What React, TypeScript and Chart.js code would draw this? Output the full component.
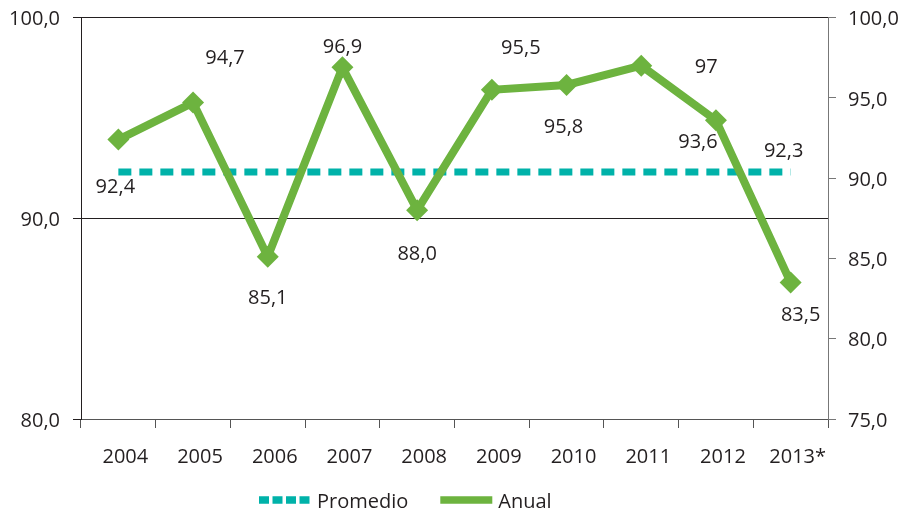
import { useEffect, useRef } from "react";
import { Chart, registerables } from "chart.js";

Chart.register(...registerables);

const categories = ["2004", "2005", "2006", "2007", "2008", "2009", "2010", "2011", "2012", "2013*"];
const anualValues = [92.4, 94.7, 85.1, 96.9, 88.0, 95.5, 95.8, 97.0, 93.6, 83.5];
const anualLabels = ["92,4", "94,7", "85,1", "96,9", "88,0", "95,5", "95,8", "97", "93,6", "83,5"];
const promedioValues = [92.3, 92.3, 92.3, 92.3, 92.3, 92.3, 92.3, 92.3, 92.3, 92.3];
const promedioLabel = "92,3";
const leftAxis = { min: 80, max: 100, step: 10 };
const rightAxis = { min: 75, max: 100, step: 5 };

// label placement relative to each point (dx, dy), layout only
const anualLabelOffsets: [number, number][] = [
  [-3, 46], [32, -46], [0, 40], [0, -21], [0, 43], [29, -43], [-3, 41], [65, 0], [-18, 21], [10, 32],
];
const promedioLabelOffset: [number, number] = [-7, -22];

const TEAL = "#00b2a9";
const GREEN = "#6db33f";
const TEXT = "#231f20";
const FONT = "'Open Sans', sans-serif";

const fmt = (v: number) => v.toFixed(1).replace(".", ",");

const labelsPlugin = {
  id: "valueLabels",
  afterDatasetsDraw(chart: any) {
    const ctx = chart.ctx;
    ctx.save();
    ctx.font = `20px ${FONT}`;
    ctx.fillStyle = TEXT;
    ctx.textAlign = "center";
    ctx.textBaseline = "alphabetic";
    const anualMeta = chart.getDatasetMeta(1);
    anualMeta.data.forEach((pt: any, i: number) => {
      const [dx, dy] = anualLabelOffsets[i];
      ctx.fillText(anualLabels[i], pt.x + dx, pt.y + dy + 7);
    });
    const promMeta = chart.getDatasetMeta(0);
    const last = promMeta.data[promMeta.data.length - 1];
    ctx.fillText(promedioLabel, last.x + promedioLabelOffset[0], last.y + promedioLabelOffset[1] + 7);
    ctx.restore();
  },
};

const legendPlugin = {
  id: "customLegend",
  afterDraw(chart: any) {
    const ctx = chart.ctx;
    const ds = chart.data.datasets;
    const y = 500;
    let x = 259;
    ctx.save();
    ctx.font = `20px ${FONT}`;
    ctx.textBaseline = "alphabetic";
    ctx.textAlign = "left";
    const items = [
      { text: ds[0].label, color: TEAL, dash: [10, 3.5], width: 7.5 },
      { text: ds[1].label, color: GREEN, dash: [], width: 7.5 },
    ];
    items.forEach((it) => {
      ctx.beginPath();
      ctx.setLineDash(it.dash);
      ctx.lineWidth = it.width;
      ctx.strokeStyle = it.color;
      ctx.moveTo(x, y);
      ctx.lineTo(x + 52, y);
      ctx.stroke();
      ctx.setLineDash([]);
      ctx.fillStyle = TEXT;
      ctx.fillText(it.text, x + 58, y + 8);
      x += 58 + ctx.measureText(it.text).width + 32;
    });
    ctx.restore();
  },
};

const noVPad = (s: any, w: number) => {
  s.width = w;
  s.paddingTop = 0;
  s.paddingBottom = 0;
};

export default function App() {
  const ref = useRef<HTMLCanvasElement>(null);
  useEffect(() => {
    if (!ref.current) return;
    Chart.defaults.font.family = FONT;
    Chart.defaults.font.size = 20;
    Chart.defaults.color = TEXT;
    const chart = new Chart(ref.current, {
      type: "line",
      data: {
        labels: categories,
        datasets: [
          {
            label: "Promedio",
            data: promedioValues,
            yAxisID: "y",
            borderColor: TEAL,
            backgroundColor: TEAL,
            borderWidth: 7,
            borderDash: [13, 8],
            pointRadius: 0,
            order: 2,
          },
          {
            label: "Anual",
            data: anualValues,
            yAxisID: "y1",
            borderColor: GREEN,
            backgroundColor: GREEN,
            borderWidth: 8,
            pointStyle: "rectRot",
            pointRadius: 11,
            pointBorderWidth: 0,
            pointBackgroundColor: GREEN,
            borderJoinStyle: "miter",
            order: 1,
          },
        ],
      },
      options: {
        responsive: false,
        animation: false,
        layout: { padding: { left: 0, right: 0, top: 17.5, bottom: 0 } },
        plugins: {
          legend: { display: false },
          tooltip: { enabled: false },
        },
        scales: {
          x: {
            offset: true,
            grid: { offset: true, drawOnChartArea: false, tickLength: 9, color: "#555" },
            border: { color: "#555" },
            ticks: { padding: 17, labelOffset: 7, autoSkip: false, maxRotation: 0, color: TEXT },
            afterFit: (s: any) => { s.height = 95; },
          },
          y: {
            position: "left",
            min: leftAxis.min,
            max: leftAxis.max,
            ticks: { stepSize: leftAxis.step, padding: 13, labelOffset: 2, color: TEXT, callback: (v: any) => fmt(Number(v)) },
            grid: { color: TEXT, tickLength: 8 },
            border: { color: TEXT },
            afterFit: (s: any) => noVPad(s, 81),
          },
          y1: {
            position: "right",
            min: rightAxis.min,
            max: rightAxis.max,
            ticks: { stepSize: rightAxis.step, padding: 12, labelOffset: 2, color: TEXT, callback: (v: any) => fmt(Number(v)) },
            grid: { drawOnChartArea: false, color: "#777", tickLength: 8 },
            border: { color: "#777" },
            afterFit: (s: any) => noVPad(s, 71),
          },
        },
      },
      plugins: [labelsPlugin, legendPlugin],
    } as any);
    return () => chart.destroy();
  }, []);
  return (
    <div style={{ position: "fixed", left: 0, top: 0, width: 899, height: 514, background: "#fff" }}>
      <canvas ref={ref} width={899} height={514} style={{ display: "block", width: 899, height: 514 }} />
    </div>
  );
}
